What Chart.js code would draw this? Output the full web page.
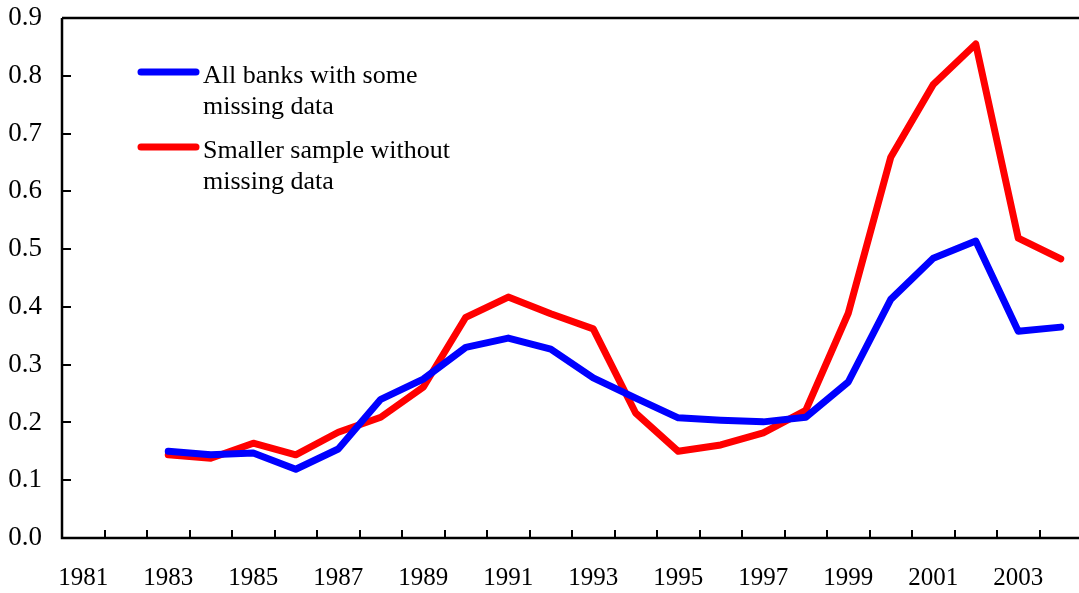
<!DOCTYPE html>
<html>
<head>
<meta charset="utf-8">
<script src="https://cdn.jsdelivr.net/npm/chart.js@4.4.0/dist/chart.umd.min.js"></script>
<style>
  html, body { margin: 0; padding: 0; background: #fff; overflow: hidden; }
  canvas { display: block; }
</style>
</head>
<body>
<canvas id="chart" width="1085" height="593"></canvas>
<script>
const years = ['1981', '1982', '1983', '1984', '1985', '1986', '1987', '1988', '1989', '1990', '1991', '1992',
  '1993', '1994', '1995', '1996', '1997', '1998', '1999', '2000', '2001', '2002', '2003', '2004'];
const allBanks = [null, null, 0.150, 0.144, 0.147, 0.119, 0.154, 0.240, 0.275, 0.330, 0.346, 0.327,
  0.277, 0.242, 0.208, 0.204, 0.201, 0.209, 0.270, 0.413, 0.484, 0.514, 0.358, 0.365];
const smallerSample = [null, null, 0.144, 0.138, 0.164, 0.144, 0.183, 0.209, 0.261, 0.382, 0.417, 0.388,
  0.362, 0.216, 0.150, 0.161, 0.182, 0.221, 0.389, 0.659, 0.785, 0.855, 0.519, 0.483];
const legendLabels = [['All banks with some', 'missing data'], ['Smaller sample without', 'missing data']];
const seriesColors = ['#0000ff', '#ff0000'];

const FONT = '"Liberation Serif", "Times New Roman", serif';

// axis frame, inward tick marks and the legend
const framePlugin = {
  id: 'frame',
  afterDraw(chart) {
    const ctx = chart.ctx;
    const area = chart.chartArea;
    const x = chart.scales.x;
    const y = chart.scales.y;
    ctx.save();
    ctx.strokeStyle = '#000';
    ctx.lineWidth = 2.5;
    ctx.beginPath();
    ctx.moveTo(area.left, area.top);
    ctx.lineTo(area.right + 5, area.top);
    ctx.moveTo(area.left, area.top);
    ctx.lineTo(area.left, area.bottom);
    ctx.lineTo(area.right + 5, area.bottom);
    ctx.stroke();

    ctx.lineWidth = 2;
    ctx.beginPath();
    for (let i = 0; i <= years.length; i++) {
      const px = Math.round(x.getPixelForValue(i - 0.5));
      ctx.moveTo(px, area.bottom);
      ctx.lineTo(px, area.bottom - 8);
    }
    y.ticks.forEach(t => {
      const py = Math.round(y.getPixelForValue(t.value));
      ctx.moveTo(area.left, py);
      ctx.lineTo(area.left + 9, py);
    });
    ctx.stroke();

    // legend
    const rows = [72, 147];
    ctx.lineCap = 'round';
    ctx.lineWidth = 7;
    ctx.font = '26px ' + FONT;
    ctx.fillStyle = '#000';
    ctx.textBaseline = 'alphabetic';
    rows.forEach((ry, i) => {
      ctx.strokeStyle = seriesColors[i];
      ctx.beginPath();
      ctx.moveTo(141, ry);
      ctx.lineTo(196, ry);
      ctx.stroke();
      ctx.fillText(legendLabels[i][0], 203, ry + 11);
      ctx.fillText(legendLabels[i][1], 203, ry + 42);
    });
    ctx.restore();
  }
};

function draw() {
  new Chart(document.getElementById('chart'), {
    type: 'line',
    data: {
      labels: years,
      datasets: [
        {
          label: legendLabels[0].join(' '),
          data: allBanks,
          borderColor: seriesColors[0],
          borderWidth: 7,
          pointRadius: 0,
          tension: 0,
          borderJoinStyle: 'round',
          borderCapStyle: 'round'
        },
        {
          label: legendLabels[1].join(' '),
          data: smallerSample,
          borderColor: seriesColors[1],
          borderWidth: 7,
          pointRadius: 0,
          tension: 0,
          borderJoinStyle: 'round',
          borderCapStyle: 'round'
        }
      ]
    },
    options: {
      responsive: false,
      animation: false,
      devicePixelRatio: 1,
      layout: { padding: { top: 18, right: 3, left: 0, bottom: 0 } },
      plugins: {
        legend: { display: false },
        tooltip: { enabled: false }
      },
      scales: {
        x: {
          offset: true,
          grid: { display: false, offset: true },
          border: { display: false },
          afterFit: s => { s.height = 55; s.paddingLeft = 0; s.paddingRight = 0; },
          ticks: {
            autoSkip: false,
            maxRotation: 0,
            padding: 17,
            color: '#000',
            font: { family: FONT, size: 25 },
            callback: (v, i) => (i % 2 === 0 ? years[i] : '')
          }
        },
        y: {
          min: 0,
          max: 0.9,
          grid: { display: false },
          border: { display: false },
          afterFit: s => { s.width = 62; s.paddingTop = 0; s.paddingBottom = 0; },
          ticks: {
            stepSize: 0.1,
            padding: 12,
            color: '#000',
            font: { family: FONT, size: 27 },
            callback: v => v.toFixed(1)
          }
        }
      }
    },
    plugins: [framePlugin]
  });
}

document.fonts.load('26px "Liberation Serif"').then(draw, draw);
</script>
</body>
</html>
